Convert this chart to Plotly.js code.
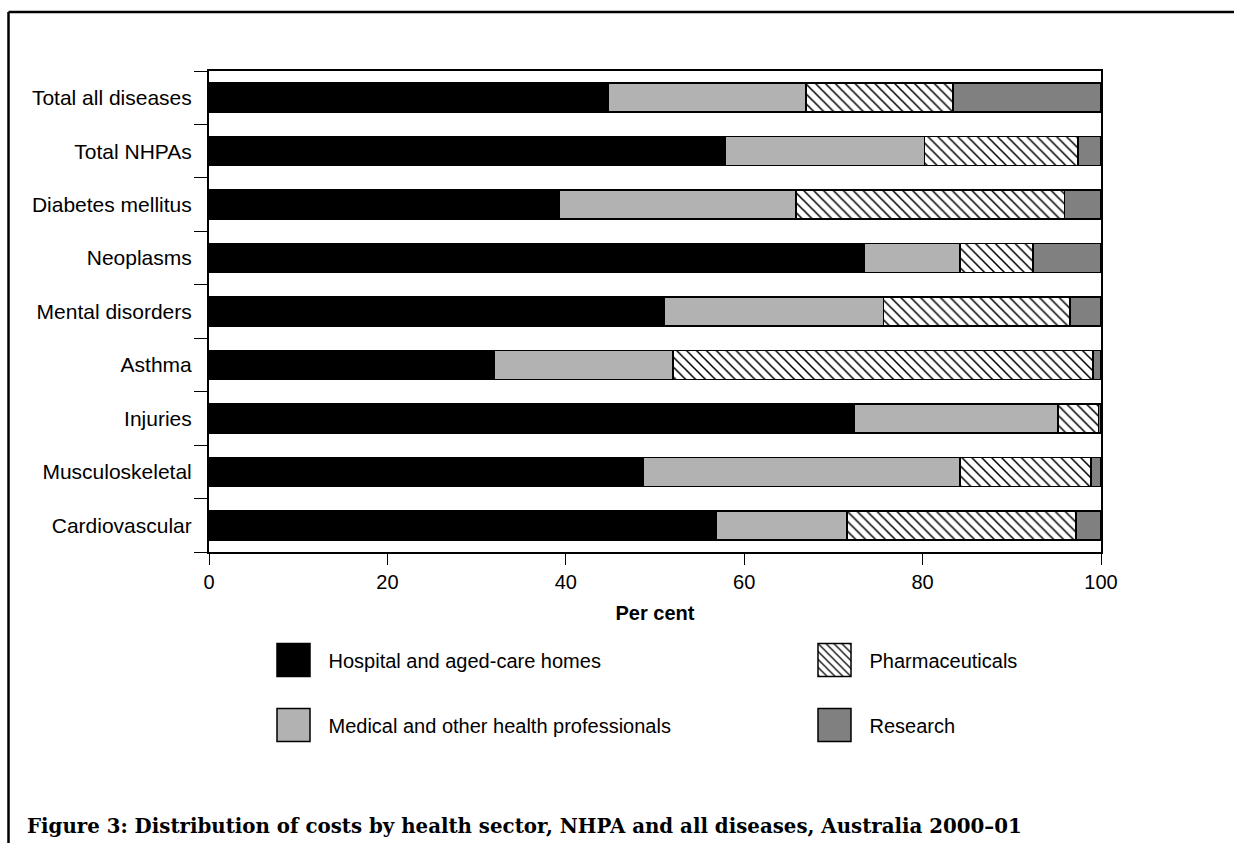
<!DOCTYPE html>
<html>
<head>
<meta charset="utf-8">
<script src="https://cdn.plot.ly/plotly-3.0.1.min.js"></script>
<style>
html, body { margin: 0; padding: 0; background: #ffffff; }
#chart { width: 1234px; height: 843px; }
</style>
</head>
<body>
<div id="chart"></div>
<script>
// Categories listed bottom to top
var categories = ['Cardiovascular', 'Musculoskeletal', 'Injuries', 'Asthma', 'Mental disorders',
                  'Neoplasms', 'Diabetes mellitus', 'Total NHPAs', 'Total all diseases'];
var hospital   = [56.9, 48.7, 72.3, 32.0, 51.0, 73.5, 39.3, 57.9, 44.8];
var medical    = [14.6, 35.5, 22.9, 20.0, 24.6, 10.7, 26.5, 22.3, 22.1];
var pharma     = [25.7, 14.7,  4.5, 47.1, 20.9,  8.2, 30.1, 17.2, 16.5];
var research   = [ 2.8,  1.1,  0.3,  0.9,  3.5,  7.6,  4.1,  2.6, 16.6];
var seriesNames = ['Hospital and aged-care homes', 'Medical and other health professionals',
                   'Pharmaceuticals', 'Research'];
var xTicks = [0, 20, 40, 60, 80, 100];

var FONT = 'Liberation Sans, Arial, sans-serif';
var outline = {color: '#000000', width: 1.5};

var data = [
  {type: 'bar', orientation: 'h', name: seriesNames[0], y: categories, x: hospital,
   marker: {color: '#000000', line: outline}, legend: 'legend', legendgroup: 'a'},
  {type: 'bar', orientation: 'h', name: seriesNames[1], y: categories, x: medical,
   marker: {color: '#b2b2b2', line: outline}, legend: 'legend', legendgroup: 'b'},
  {type: 'bar', orientation: 'h', name: seriesNames[2], y: categories, x: pharma,
   marker: {color: '#ffffff', line: outline,
            pattern: {shape: '\\', fgcolor: '#000000', bgcolor: '#ffffff', size: 7, solidity: 0.22}},
   legend: 'legend2', legendgroup: 'c'},
  {type: 'bar', orientation: 'h', name: seriesNames[3], y: categories, x: research,
   marker: {color: '#808080', line: outline}, legend: 'legend2', legendgroup: 'd'}
];

var legendCommon = {
  orientation: 'v', traceorder: 'grouped', tracegroupgap: 36, itemwidth: 60,
  xref: 'container', yref: 'container', xanchor: 'left', yanchor: 'top',
  font: {family: FONT, size: 20, color: '#000000'}, bgcolor: 'rgba(0,0,0,0)', borderwidth: 0,
  itemclick: false, itemdoubleclick: false
};

var layout = {
  width: 1234, height: 843,
  paper_bgcolor: '#ffffff', plot_bgcolor: '#ffffff',
  margin: {l: 209, r: 133, t: 71, b: 291, pad: 0, autoexpand: false},
  barmode: 'stack', bargap: 0.457,
  showlegend: true,
  font: {family: FONT, size: 20, color: '#000000'},
  title: {
    text: 'Figure 3: Distribution of costs by health sector, NHPA and all diseases, Australia 2000–01',
    font: {family: 'DejaVu Serif, serif', size: 19.8, weight: 'bold', color: '#000000'},
    xref: 'container', x: 27 / 1234, xanchor: 'left',
    yref: 'container', y: 1 - 826 / 843, yanchor: 'middle'
  },
  xaxis: {
    range: [0, 100], tickvals: xTicks, ticktext: xTicks.map(String),
    ticks: 'outside', ticklen: 11, tickwidth: 1, tickcolor: '#000000',
    showline: true, mirror: true, linecolor: '#000000', linewidth: 2,
    showgrid: false, zeroline: false, automargin: false,
    tickfont: {family: FONT, size: 20, color: '#000000'},
    title: {text: 'Per cent', standoff: 14, font: {family: FONT, size: 20, weight: 'bold', color: '#000000'}}
  },
  yaxis: {
    type: 'category', categoryorder: 'array', categoryarray: categories,
    tickson: 'boundaries', ticks: 'outside', ticklen: 13, tickwidth: 1, tickcolor: '#000000',
    ticklabelstandoff: 11,
    showline: true, mirror: true, linecolor: '#000000', linewidth: 2,
    showgrid: false, zeroline: false, automargin: false,
    tickfont: {family: FONT, size: 21, color: '#000000'}
  },
  legend: Object.assign({}, legendCommon, {x: 258.5 / 1234, y: 1 - 640.5 / 843}),
  legend2: Object.assign({}, legendCommon, {x: 799.5 / 1234, y: 1 - 640.5 / 843}),
  shapes: [
    // outer frame: top and left edges
    {type: 'line', xref: 'paper', yref: 'paper', x0: (8.5 - 209) / 892, x1: (1240 - 209) / 892,
     y0: 1 + (71 - 12) / 481, y1: 1 + (71 - 12) / 481, line: {color: '#000000', width: 2.5}},
    {type: 'line', xref: 'paper', yref: 'paper', x0: (8.5 - 209) / 892, x1: (8.5 - 209) / 892,
     y0: 1 + (71 - 12) / 481, y1: -(850 - 552) / 481, line: {color: '#000000', width: 2.5}}
  ]
};

var gd = document.getElementById('chart');
Plotly.newPlot(gd, data, layout, {staticPlot: true, displayModeBar: false, responsive: false}).then(function () {
  gd.querySelectorAll('.legendpoints path').forEach(function (p) {
    p.setAttribute('d', 'M16.5,16.5H-16.5V-16.5H16.5Z');
  });
  gd.querySelectorAll('.scrollbox').forEach(function (e) { e.removeAttribute('clip-path'); });
});
</script>
</body>
</html>
